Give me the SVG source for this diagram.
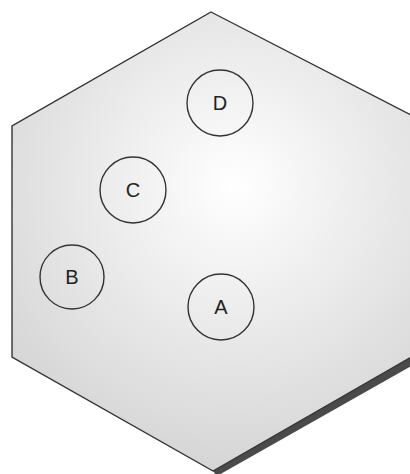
<svg xmlns="http://www.w3.org/2000/svg" width="410" height="474" viewBox="0 0 410 474">
<style>
.node circle{fill:none;stroke:#333;stroke-width:1.4}
.node text{font-family:"Liberation Sans",Arial,sans-serif;font-size:20px;fill:#222;text-anchor:middle;dominant-baseline:central}
</style>
<defs>
<radialGradient id="g" cx="235" cy="185" r="280" gradientUnits="userSpaceOnUse">
<stop offset="0" stop-color="#ffffff"/>
<stop offset="1" stop-color="#d6d6d6"/>
</radialGradient>
</defs>
<rect width="410" height="474" fill="#fff"/>
<g id="plate">
<path d="M213,471 L413,356 L413,365 L217,476 Z" fill="#4a4a4a"/>
<path d="M211,12 L413,116 L413,356 L213,471 L12,357 L12,126 Z" fill="url(#g)" stroke="#333" stroke-width="1.4"/>
</g>
<g id="connectors"></g>
<g id="D" class="node"><circle cx="220" cy="103" r="33"/><text x="220" y="103">D</text></g>
<g id="C" class="node"><circle cx="133" cy="190" r="33"/><text x="133" y="190">C</text></g>
<g id="B" class="node"><circle cx="72" cy="277" r="32"/><text x="72" y="277">B</text></g>
<g id="A" class="node"><circle cx="221" cy="307" r="33"/><text x="221" y="307">A</text></g>
</svg>
